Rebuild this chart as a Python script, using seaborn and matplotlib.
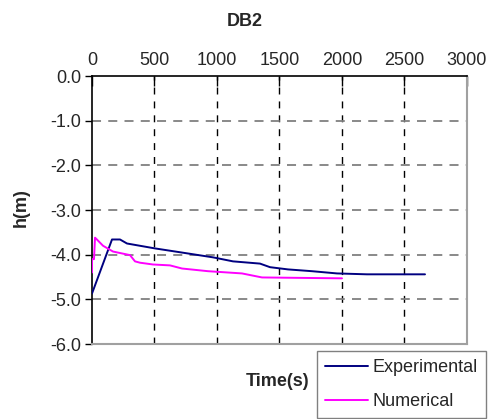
import matplotlib
matplotlib.use("Agg")
import matplotlib.pyplot as plt
import seaborn as sns
import pandas as pd

# Measured water level (h) against time
exp_t = [0, 160, 224, 280, 504, 760, 968, 1128, 1344, 1424, 1568, 1760, 1960, 2200, 2664]
exp_h = [-4.87, -3.66, -3.66, -3.75, -3.86, -3.97, -4.06, -4.15, -4.20, -4.28, -4.33, -4.37, -4.42, -4.44, -4.44]

# Simulated water level (h) against time
num_t = [0, 0, 16, 24, 32, 88, 168, 304, 344, 384, 488, 624, 720, 928, 1200, 1360, 2000]
num_h = [-4.40, -4.10, -4.10, -3.62, -3.64, -3.80, -3.93, -4.01, -4.15, -4.18, -4.22, -4.24, -4.31, -4.37, -4.42, -4.51, -4.53]

x_ticks = [0, 500, 1000, 1500, 2000, 2500, 3000]
y_ticks = [0.0, -1.0, -2.0, -3.0, -4.0, -5.0, -6.0]
y_tick_labels = ["0.0", "-1.0", "-2.0", "-3.0", "-4.0", "-5.0", "-6.0"]

sns.set_theme(style="white")
plt.rcParams["font.family"] = ["Liberation Sans", "DejaVu Sans"]
plt.rcParams["axes.unicode_minus"] = False

df = pd.concat([
    pd.DataFrame({"t": exp_t, "h": exp_h, "series": "Experimental"}),
    pd.DataFrame({"t": num_t, "h": num_h, "series": "Numerical"}),
], ignore_index=True)

fig = plt.figure(figsize=(4.89, 4.19), dpi=100)
ax = fig.add_axes([92 / 489, 1 - 344 / 419, 375 / 489, 268 / 419])

sns.lineplot(data=df, x="t", y="h", hue="series", sort=False, estimator=None,
             palette={"Experimental": "#000080", "Numerical": "#FF00FF"},
             linewidth=1.4, ax=ax, legend=False, zorder=3)

ax.set_xlim(0, 3000)
ax.set_ylim(-6.0, 0.0)
ax.set_xticks(x_ticks)
ax.set_yticks(y_ticks)
ax.set_yticklabels(y_tick_labels)

# gridlines: vertical black dashes, horizontal grey dashes
for xv in x_ticks[1:-1]:
    ax.axvline(xv, color="black", lw=1.0, ls=(0, (5, 5)), zorder=1)
for yv in y_ticks[1:-1]:
    ax.axhline(yv, color="#808080", lw=1.3, ls=(0, (5, 4)), zorder=1)

ax.xaxis.set_ticks_position("top")
ax.xaxis.set_label_position("bottom")
ax.tick_params(axis="x", direction="in", length=7, width=1, color="black",
               labelsize=13, pad=5, top=True, bottom=False)
ax.tick_params(axis="y", direction="out", length=5, width=1, color="black",
               labelsize=13, pad=3, left=True)

for side in ("left", "top"):
    ax.spines[side].set_color("black")
    ax.spines[side].set_linewidth(1.2)
for side in ("right", "bottom"):
    ax.spines[side].set_color("#a0a0a0")
    ax.spines[side].set_linewidth(1.5)

ax.set_xlabel("Time(s)", fontsize=13, fontweight="bold")
ax.xaxis.set_label_coords(186 / 375, -29 / 268)
ax.set_ylabel("h(m)", fontsize=13, fontweight="bold")
ax.yaxis.set_label_coords(-62 / 375, 0.51)

fig.text(245 / 489, 1 - 21 / 419, "DB2", ha="center", va="center",
         fontsize=13, fontweight="bold")

handles = [plt.Line2D([], [], color="#000080", lw=1.4),
           plt.Line2D([], [], color="#FF00FF", lw=1.4)]
leg = fig.legend(handles, ["Experimental", "Numerical"], loc="upper left",
                 bbox_to_anchor=(317 / 489, 1 - 351 / 419), frameon=True,
                 fancybox=False, framealpha=1, edgecolor="#808080",
                 fontsize=13, handlelength=2.4, handletextpad=0.25,
                 labelspacing=0.95, borderpad=0.45, borderaxespad=0)
leg.get_frame().set_linewidth(1.0)

fig.savefig("out.png", dpi=100)
